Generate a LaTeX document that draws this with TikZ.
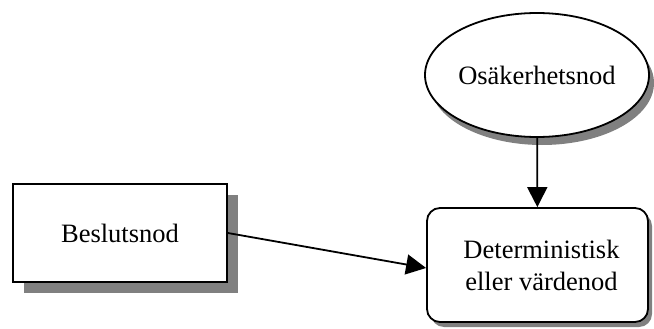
\documentclass[tikz,border=0pt]{standalone}
\usepackage{fontspec}
\setmainfont{Liberation Serif}
\usetikzlibrary{shapes.geometric,shadows,arrows.meta}
\begin{document}
\begin{tikzpicture}[x=1pt,y=-1pt,
  every node/.style={font=\fontsize{26.5}{32}\selectfont, line width=1.8pt, draw=black, fill=white, inner sep=0pt, align=center},
  shade/.style 2 args={drop shadow={shadow xshift=#1, shadow yshift=-#2, fill=black!50, opacity=1}},
  conn/.style={line width=1.8pt, -{Triangle[length=20pt,width=20pt]}}]
\useasboundingbox (0,0) rectangle (654,329);
\node[ellipse, minimum width=224pt, minimum height=124pt, shade={5pt}{8pt}] (u) at (537,75) {Osäkerhetsnod};
\node[rectangle, minimum width=214pt, minimum height=98pt, shade={11pt}{11pt}] (b) at (120,233) {Beslutsnod};
\node[rectangle, rounded corners=13pt, minimum width=221pt, minimum height=114pt, shade={4pt}{5pt}] (d) at (537.5,265) {\hspace*{8pt}Deterministisk\\\hspace*{8pt}eller värdenod};
\draw[conn] (u) -- (d);
\draw[conn] (b.east) -- ([yshift=-3pt]d.west);
\end{tikzpicture}
\end{document}
